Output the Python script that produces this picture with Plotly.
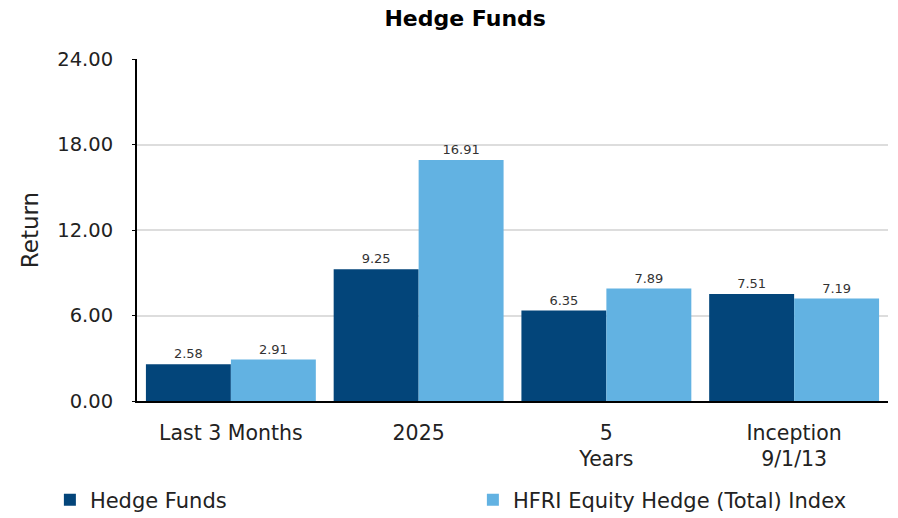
import plotly.graph_objects as go

categories = ["Last 3 Months", "2025", "5<br>Years", "Inception<br>9/1/13"]
hedge_funds = [2.58, 9.25, 6.35, 7.51]
hfri_index = [2.91, 16.91, 7.89, 7.19]
series_names = ["Hedge Funds", "HFRI Equity Hedge (Total) Index"]
y_ticks = [0, 6, 12, 18, 24]
y_tick_labels = ["0.00", "6.00", "12.00", "18.00", "24.00"]

FONT = "DejaVu Sans"
fig = go.Figure()
for name, vals, color in [(series_names[0], hedge_funds, "#03457A"),
                          (series_names[1], hfri_index, "#62B2E2")]:
    fig.add_trace(go.Bar(
        x=categories, y=vals, name=name, marker_color=color, marker_line_width=0,
        text=[f"{v:.2f}" for v in vals], textposition="outside",
        textfont=dict(size=13, color="#333333", family=FONT),
        cliponaxis=False,
    ))

fig.update_layout(
    width=898, height=518,
    margin=dict(l=137, r=10, t=59, b=117, autoexpand=False),
    paper_bgcolor="white", plot_bgcolor="white",
    barmode="group", bargap=0.095, bargroupgap=0,
    font=dict(family=FONT, color="#222222"),
    title=dict(text="<b>Hedge Funds</b>", x=0.518, xanchor="center", y=0.98, yanchor="top",
               font=dict(size=22, color="black", family=FONT)),
    legend=dict(orientation="h", x=-0.116, xanchor="left", y=-0.23, yanchor="top",
                font=dict(size=21, color="#222222", family=FONT),
                entrywidth=378, entrywidthmode="pixels", traceorder="normal"),
)
fig.update_yaxes(range=[0, 24], tickvals=y_ticks, ticktext=y_tick_labels,
                 showgrid=True, gridcolor="#DDDDDD", gridwidth=2,
                 showline=True, linecolor="black", linewidth=2,
                 ticks="outside", ticklen=3, tickcolor="black",
                 ticklabelstandoff=15, automargin=False,
                 tickfont=dict(size=19.5, color="#222222"),
                 title=dict(text="Return", font=dict(size=23, color="#222222"), standoff=12),
                 zeroline=False)
fig.update_xaxes(showline=True, linecolor="black", linewidth=2, automargin=False,
                 tickfont=dict(size=20.5, color="#222222"), ticks="", ticklabelstandoff=12)

fig.write_html("out.html", config={"displayModeBar": False},
               post_script="document.body.style.margin='0';")
